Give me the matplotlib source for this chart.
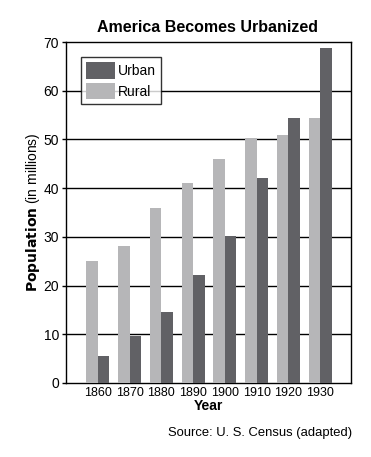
import matplotlib
matplotlib.use("Agg")
import matplotlib.pyplot as plt
import numpy as np

years = ["1860", "1870", "1880", "1890", "1900", "1910", "1920", "1930"]
urban = [5.6, 9.6, 14.6, 22.1, 30.2, 42.1, 54.5, 68.8]
rural = [25.1, 28.1, 35.9, 41.0, 46.0, 50.3, 50.9, 54.5]
yticks = [0, 10, 20, 30, 40, 50, 60, 70]

plt.rcParams['font.family'] = ['Liberation Sans', 'DejaVu Sans']

fig = plt.figure(figsize=(3.71, 4.57), dpi=100)
ax = fig.add_axes([0.178, 0.162, 0.768, 0.746])

x = np.arange(len(years))
w = 0.36
rural_c = "#b6b6b8"
urban_c = "#616165"
ax.bar(x - w/2, rural, width=w, color=rural_c, label="Rural", zorder=3)
ax.bar(x + w/2, urban, width=w, color=urban_c, label="Urban", zorder=3)

ax.set_xlim(-1.0, 7.97)
ax.set_ylim(0, 70)
ax.set_yticks(yticks)
ax.set_xticks(x)
ax.set_xticklabels(years, fontsize=9)
ax.tick_params(axis='x', length=0, pad=3)
ax.tick_params(axis='y', length=3, width=1, labelsize=10, pad=2)
for t in yticks[1:-1]:
    ax.axhline(t, color='black', linewidth=1, zorder=1)
for s in ax.spines.values():
    s.set_color('black')
    s.set_linewidth(1)

ax.set_xlabel("Year", fontsize=10, fontweight='bold', labelpad=0)
ax.set_ylabel(r"$\bf{Population}$ (in millions)", fontsize=10, labelpad=1)
fig.text(0.56, 0.94, "America Becomes Urbanized", ha='center', va='center',
         fontsize=11.5, fontweight='bold')
fig.text(0.95, 0.0525, "Source: U. S. Census (adapted)", ha='right', va='center', fontsize=9.4)

handles, labels = ax.get_legend_handles_labels()
leg = ax.legend(handles[::-1], labels[::-1], loc='upper left',
                bbox_to_anchor=(0.052, 0.955), fontsize=10, frameon=True,
                fancybox=False, edgecolor='black', handlelength=2.1,
                handleheight=1.45, borderpad=0.35, labelspacing=0.3,
                handletextpad=0.25, borderaxespad=0)
leg.get_frame().set_linewidth(1)
leg.set_zorder(5)

fig.savefig("out.png", dpi=100)
